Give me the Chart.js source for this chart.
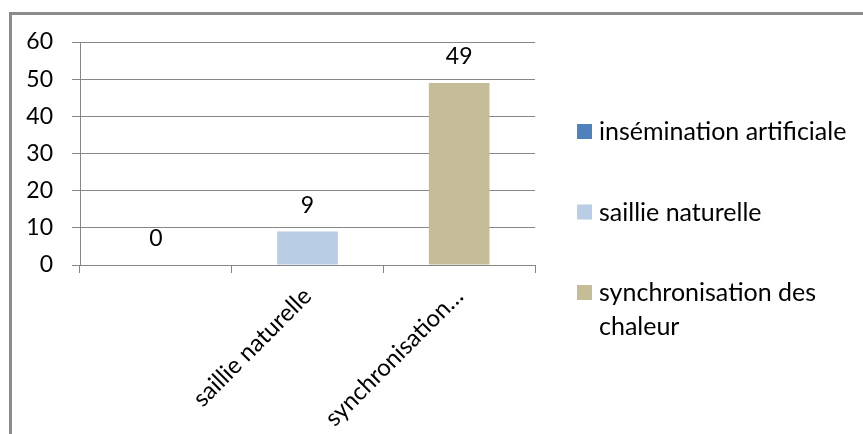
<!DOCTYPE html>
<html>
<head>
<meta charset="utf-8">
<script src="https://cdn.jsdelivr.net/npm/chart.js@4/dist/chart.umd.min.js"></script>
<style>
  html, body { margin: 0; padding: 0; background: #fff; }
  #wrap { position: relative; width: 863px; height: 434px; overflow: hidden; }
  #chart { position: absolute; left: 0; top: 0; }
  #frame {
    position: absolute; left: 9px; top: 12px; width: 900px; height: 500px;
    border-top: 3px solid #8c8c8c; border-left: 3px solid #8c8c8c;
    pointer-events: none;
  }
</style>
</head>
<body>
<div id="wrap">
  <canvas id="chart" width="863" height="434"></canvas>
  <div id="frame"></div>
</div>
<script>
const categories = ['insémination artificiale', 'saillie naturelle', 'synchronisation des chaleur']
const counts = [0, 9, 49]
const axisLabels = ['', 'saillie naturelle', 'synchronisation…']
const legendLines = [['insémination artificiale'], ['saillie naturelle'], ['synchronisation des', 'chaleur']]
const yTicks = [0, 10, 20, 30, 40, 50, 60]

const barColors = ['#4f81bd', '#b9cde5', '#c4bd97']
const FONT = 'Lato, "Open Sans", sans-serif'
const TEXT_SIZE = 25   // legend names
const AXIS_SIZE = 24   // rotated category labels
const NUM_SIZE = 23    // axis numbers and bar values
const gridColor = '#878787'

// value printed above each bar
const valueLabels = {
  id: 'valueLabels',
  afterDatasetsDraw(chart) {
    const ctx = chart.ctx
    const meta = chart.getDatasetMeta(0)
    ctx.save()
    ctx.font = `${NUM_SIZE}px ${FONT}`
    ctx.fillStyle = '#000'
    ctx.textAlign = 'center'
    ctx.textBaseline = 'middle'
    meta.data.forEach((bar, i) => {
      ctx.fillText(String(counts[i]), bar.x, bar.y - 26)
    })
    ctx.restore()
  }
}

// legend on the right, one entry per category, long names wrapped
const sideLegend = {
  id: 'sideLegend',
  afterDraw(chart) {
    const ctx = chart.ctx
    const area = chart.chartArea
    const boxX = area.right + 42
    const textX = area.right + 64
    const firstY = 132
    const step = 80.5
    const lineH = 34
    ctx.save()
    ctx.font = `${TEXT_SIZE}px ${FONT}`
    ctx.textAlign = 'left'
    ctx.textBaseline = 'middle'
    legendLines.forEach((lines, i) => {
      const cy = firstY + i * step
      ctx.fillStyle = barColors[i]
      ctx.fillRect(boxX, cy - 8, 15, 15)
      ctx.fillStyle = '#000'
      lines.forEach((line, j) => ctx.fillText(line, textX, cy + j * lineH))
    })
    ctx.restore()
  }
}

new Chart(document.getElementById('chart'), {
  type: 'bar',
  data: {
    labels: categories,
    datasets: [{
      label: 'effectif',
      data: counts,
      backgroundColor: barColors,
      borderWidth: 0,
      barPercentage: 0.4,
      categoryPercentage: 1
    }]
  },
  options: {
    responsive: false,
    animation: false,
    layout: { padding: { left: 0, top: 42, right: 328, bottom: 0 } },
    plugins: {
      legend: { display: false },
      tooltip: { enabled: false }
    },
    scales: {
      x: {
        grid: { drawOnChartArea: false, drawTicks: true, tickLength: 8, color: gridColor, offset: true },
        border: { color: gridColor },
        ticks: {
          autoSkip: false,
          minRotation: 45,
          maxRotation: 45,
          padding: 9,
          color: '#000',
          font: { family: FONT, size: AXIS_SIZE },
          callback: (v, i) => axisLabels[i]
        },
        afterFit(scale) { scale.height = 169 }
      },
      y: {
        min: 0,
        max: 60,
        afterBuildTicks(scale) { scale.ticks = yTicks.map(v => ({ value: v })) },
        grid: { color: gridColor, tickLength: 8 },
        border: { color: gridColor },
        ticks: {
          padding: 19,
          color: '#000',
          font: { family: FONT, size: NUM_SIZE }
        },
        afterFit(scale) { scale.width = 80 }
      }
    }
  },
  plugins: [valueLabels, sideLegend]
})
</script>
</body>
</html>
